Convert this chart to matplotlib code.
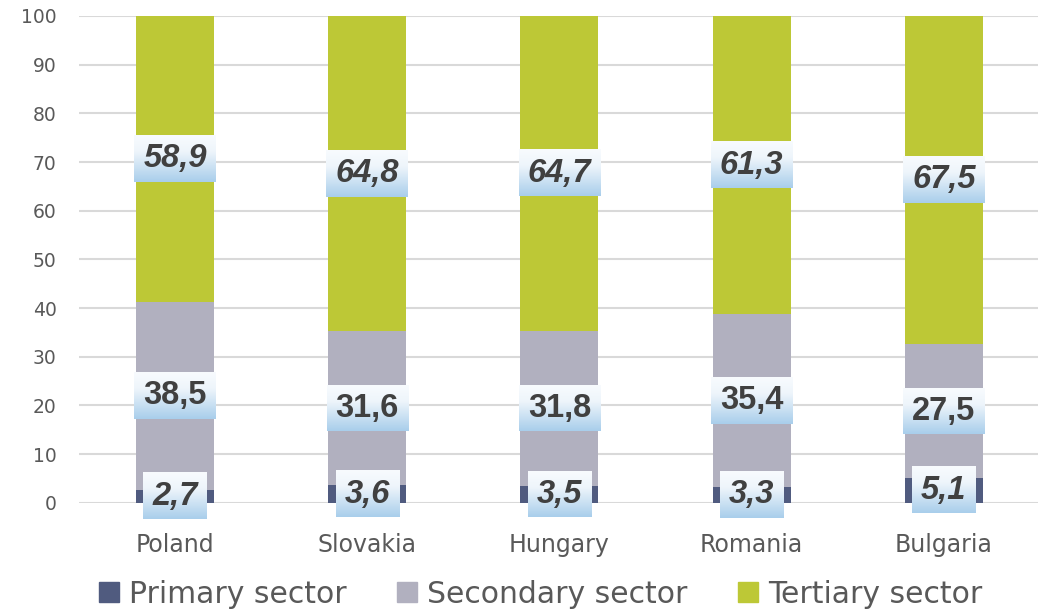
import numpy as np
import matplotlib.pyplot as plt
from matplotlib.colors import LinearSegmentedColormap
from matplotlib.patches import Patch

countries = ['Poland', 'Slovakia', 'Hungary', 'Romania', 'Bulgaria']
primary = [2.7, 3.6, 3.5, 3.3, 5.1]
secondary = [38.5, 31.6, 31.8, 35.4, 27.5]
tertiary = [58.9, 64.8, 64.7, 61.3, 67.5]
series_names = ['Primary sector', 'Secondary sector', 'Tertiary sector']
yticks = list(range(0, 101, 10))

colors = ['#505b7f', '#b1b0bf', '#bdc836']
text_col = '#595959'
plt.rcParams['font.family'] = ['DejaVu Sans']

fig = plt.figure(figsize=(10.38, 6.14), dpi=100)
ax = fig.add_axes([0.076, 0.181, 0.924, 0.793])

x = np.arange(len(countries))
w = 0.405
bottoms = np.zeros(len(countries))
series = [primary, secondary, tertiary]
for vals, c in zip(series, colors):
    ax.bar(x, vals, w, bottom=bottoms, color=c, zorder=2)
    bottoms = bottoms + np.array(vals)

ax.set_xlim(-0.5, 4.49)
ax.set_ylim(0, 100)
ax.set_yticks(yticks)
ax.yaxis.grid(True, color='#d9d9d9', linewidth=1.5, zorder=0)
ax.set_axisbelow(True)
for s in ax.spines.values():
    s.set_visible(False)
ax.tick_params(axis='both', length=0, colors=text_col)
ax.tick_params(axis='y', labelsize=13.5, pad=16)
ax.tick_params(axis='x', labelsize=17, pad=22)
ax.set_xticks(x)
ax.set_xticklabels(countries)

# gradient label boxes
grad = LinearSegmentedColormap.from_list(
    'lbl', [(0, '#f8fbfe'), (0.35, '#eef5fb'), (1, '#a9ceeb')])
gimg = grad(np.linspace(0, 1, 64))[:, None, :]

fig.canvas.draw()
rend = fig.canvas.get_renderer()
inv = ax.transData.inverted()
bottoms = np.zeros(len(countries))
for k, vals in enumerate(series):
    style = 'normal' if k == 1 else 'italic'
    for i, v in enumerate(vals):
        yc = bottoms[i] + v / 2
        lbl = ('%.1f' % v).replace('.', ',')
        t = ax.text(x[i], yc, lbl, ha='center', va='center', fontsize=23.5,
                    fontweight='bold', fontstyle=style, color='#404040',
                    family=['Liberation Sans'], zorder=5)
        bb = t.get_window_extent(rend)
        px, py = ax.transData.transform((x[i], yc))
        x0, yb = inv.transform((bb.x0 - 9, py - 23))
        x1, yt = inv.transform((bb.x1 + 9, py + 23))
        ax.imshow(gimg, extent=[x0, x1, yb, yt], aspect='auto', zorder=4,
                  clip_on=False)
    bottoms = bottoms + np.array(vals)

ax.set_xlim(-0.5, 4.49)
ax.set_ylim(0, 100)

handles = [Patch(color=c) for c in colors]
fig.legend(handles, series_names, loc='lower center', ncol=3,
           bbox_to_anchor=(0.521, -0.035), frameon=False, fontsize=21.5,
           handlelength=0.65, handleheight=0.65, handletextpad=0.35,
           columnspacing=1.7, labelcolor=text_col)

fig.savefig('out.png', dpi=100)
